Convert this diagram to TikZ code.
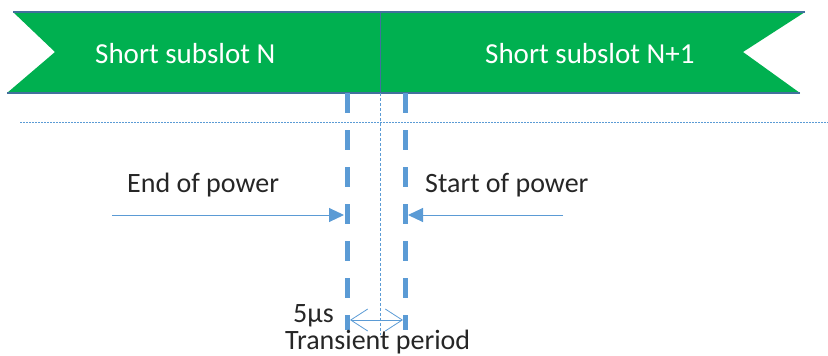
\documentclass[tikz,border=0pt]{standalone}
\usepackage{fontspec}
\setmainfont{Carlito}
\usetikzlibrary{arrows.meta}
\definecolor{slotgreen}{RGB}{0,176,80}
\definecolor{slotedge}{RGB}{65,113,156}
\definecolor{markblue}{RGB}{91,155,213}

\tikzset{
  slottext/.style={anchor=base west, text=white, font=\fontsize{29}{34}\selectfont},
  powertext/.style={anchor=base west, text=black!85, font=\fontsize{28}{33}\selectfont},
  powerline/.style={markblue, line width=5pt, dash pattern=on 20pt off 17pt},
  midline/.style={markblue, line width=0.8pt, dash pattern=on 3pt off 2pt},
  powerarrow/.style={markblue, line width=1pt, -{Triangle[length=15pt,width=14pt]}}
}

\begin{document}
\begin{tikzpicture}[x=1pt,y=1pt]
\tikzstyle{every node}+=[inner sep=0pt]
\useasboundingbox (0,0) rectangle (828,-356);
% banner
\fill [slotgreen] (13,-12) -- (805,-12) -- (743,-52) -- (800,-93) -- (7,-93) -- (55,-52) -- cycle;
\draw [slotedge, line width=1.2pt] (13,-12) -- (805,-12);
\draw [slotedge, line width=1.2pt] (7,-93) -- (800,-93);
\coordinate (divtop) at (380,-12);
\coordinate (divbot) at (380,-93);
\draw [slotedge, line width=1pt] (divtop) -- (divbot);
\node [slottext] (slotN) at (95,-63) {Short subslot N};
\node [slottext] (slotNext) at (485,-63) {Short subslot N+1};
% dotted grid line
\coordinate (gridL) at (20,-122);
\coordinate (gridR) at (828,-122);
\draw [midline, line width=0.7pt, dash pattern=on 1.5pt off 1.5pt] (gridL) -- (gridR);
% power edges
\coordinate (endtop) at (347.5,-93);
\coordinate (endbot) at (347.5,-330);
\coordinate (starttop) at (405,-93);
\coordinate (startbot) at (405,-330);
\draw [powerline] (endtop) -- (endbot);
\draw [powerline] (starttop) -- (startbot);
\coordinate (midbot) at (380,-335);
\draw [midline] (divbot) -- (midbot);
% arrows
\coordinate (endtail) at (112,-215);
\coordinate (endtip) at (344,-215);
\coordinate (starttail) at (563,-215);
\coordinate (starttip) at (408,-215);
\draw [powerarrow] (endtail) -- (endtip);
\draw [powerarrow] (starttail) -- (starttip);
\node [powertext] (endlabel) at (127,-192) {End of power};
\node [powertext] (startlabel) at (425,-192) {Start of power};
% transient period
\coordinate (gapL) at (350,-320);
\coordinate (gapR) at (403,-320);
\draw [markblue, line width=0.8pt, {Straight Barb[length=17pt,width=22pt]}-{Straight Barb[length=17pt,width=22pt]}] (gapL) -- (gapR);
\node [powertext] (gaptime) at (293,-322) {5µs};
\node [powertext] (gapname) at (285,-349) {Transient period};
\end{tikzpicture}
\end{document}
